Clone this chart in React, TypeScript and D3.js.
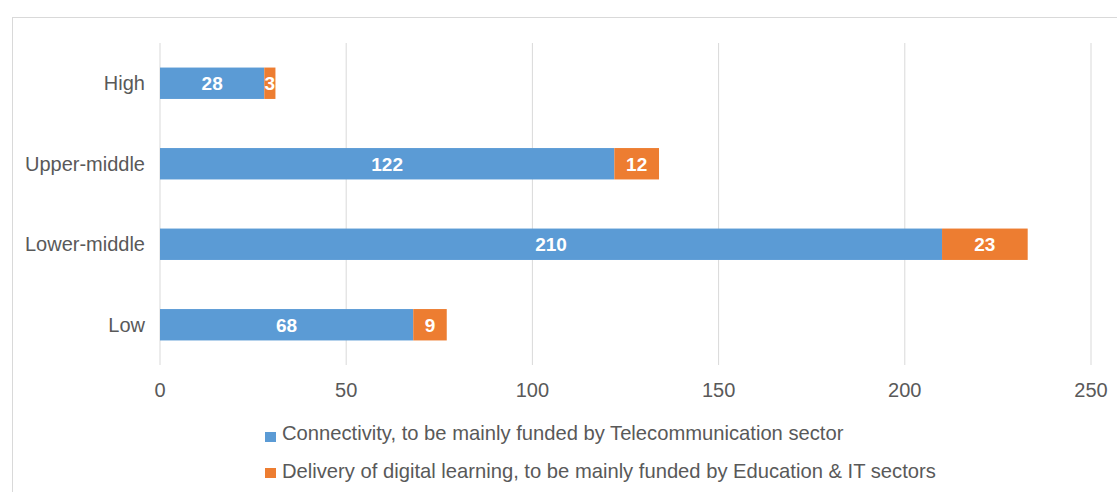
import React from "react";
import * as d3 from "d3";

const categories = ["High", "Upper-middle", "Lower-middle", "Low"];
const connectivity = [28, 122, 210, 68];
const delivery = [3, 12, 23, 9];
const xTicks = [0, 50, 100, 150, 200, 250];
const seriesNames = [
  "Connectivity, to be mainly funded by Telecommunication sector",
  "Delivery of digital learning, to be mainly funded by Education & IT sectors",
];
const colors = ["#5B9BD5", "#ED7D31"];

export default function App() {
  const W = 1117, H = 492;
  const x = d3.scaleLinear().domain([0, 250]).range([160, 1091]);
  const y = d3.scaleBand().domain(categories).range([43, 365]).paddingInner(0.61).paddingOuter(0.305);
  const font = "'Liberation Sans', Arial, Helvetica, sans-serif";
  const stackData = categories.map((c, i) => ({ cat: c, a: connectivity[i], b: delivery[i] }));
  const stack = d3.stack<any>().keys(["a", "b"])(stackData);
  return (
    <svg width={W} height={H} style={{ position: "absolute", left: 0, top: 0, background: "#fff" }} fontFamily={font}>
      <rect x={12.5} y={17.5} width={W} height={H} fill="#fff" stroke="#d9d9d9" strokeWidth={1} />
      {xTicks.map((t) => (
        <g key={t}>
          <line x1={x(t)} x2={x(t)} y1={43} y2={365} stroke="#d9d9d9" strokeWidth={1} />
          <text x={x(t)} y={397} textAnchor="middle" fontSize={20} fill="#595959">{t}</text>
        </g>
      ))}
      {categories.map((c) => (
        <text key={c} x={145} y={(y(c) as number) + y.bandwidth() / 2} dy="0.35em" textAnchor="end" fontSize={20} fill="#595959">{c}</text>
      ))}
      {stack.map((s, si) => (
        <g key={si}>
          {s.map((d: any, i: number) => {
            const cat = categories[i];
            const x0 = x(d[0]), x1 = x(d[1]);
            const val = d[1] - d[0];
            return (
              <g key={cat}>
                <rect x={x0} y={y(cat)} width={x1 - x0} height={y.bandwidth()} fill={colors[si]} />
                <text x={(x0 + x1) / 2} y={(y(cat) as number) + y.bandwidth() / 2} dy="0.36em" textAnchor="middle" fontSize={19} fill="#fff" fontWeight="bold">{val}</text>
              </g>
            );
          })}
        </g>
      ))}
      {seriesNames.map((n, i) => (
        <g key={n}>
          <rect x={265} y={432 + i * 36} width={11} height={10} fill={colors[i]} />
          <text x={282} y={440 + i * 38} fontSize={20.2} fill="#595959">{n}</text>
        </g>
      ))}
    </svg>
  );
}
